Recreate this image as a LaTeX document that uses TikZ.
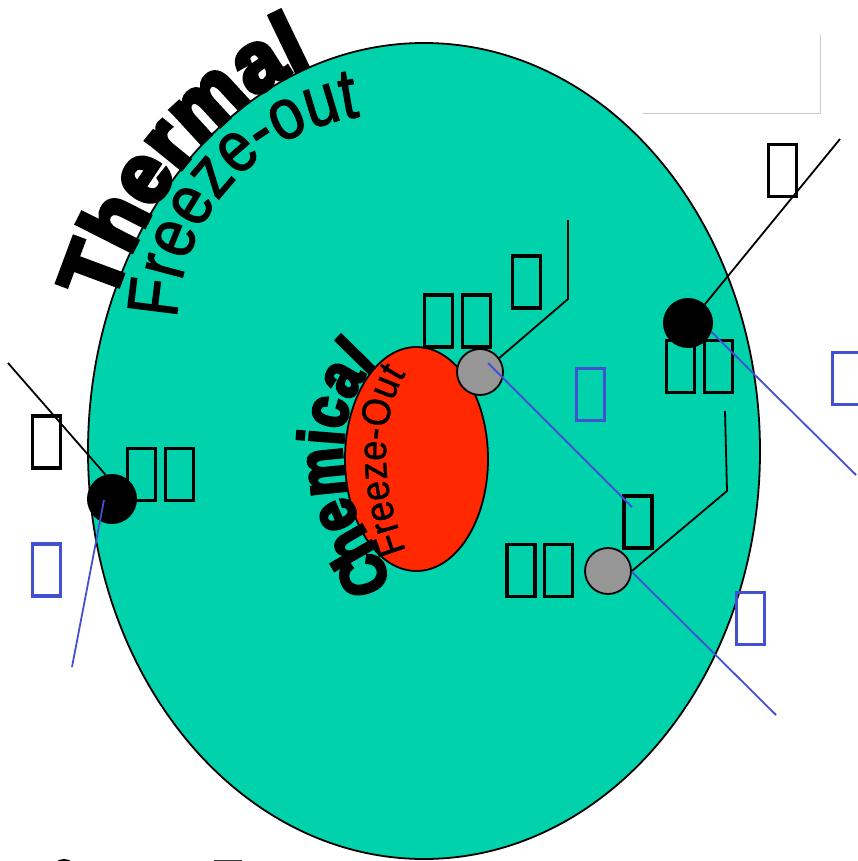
\documentclass[tikz,border=0pt]{standalone}
\usepackage{fontspec}
\usetikzlibrary{decorations.text}
% condensed, heavy faces for the arched captions
\newfontfamily\arcboldA[FakeStretch=0.97, FakeBold=6]{Liberation Sans Bold}
\newfontfamily\arcregA[FakeStretch=0.85, FakeBold=1.5]{Liberation Sans}
\newfontfamily\arcboldB[FakeStretch=0.85, FakeBold=4.5]{Liberation Sans Bold}
\newfontfamily\arcregB[FakeStretch=0.9, FakeBold=1]{Liberation Sans}
\definecolor{fireball}{RGB}{0,210,172}
\definecolor{core}{RGB}{255,40,0}
\definecolor{trackblue}{RGB}{68,80,210}
\definecolor{hadron}{RGB}{150,150,150}
\definecolor{frame}{RGB}{200,200,200}
\begin{document}
\begin{tikzpicture}[x=1pt,y=1pt,
  tofu/.style={draw, line width=3.2pt, minimum width=28pt, minimum height=52pt, inner sep=0pt},
  tofublue/.style={tofu, draw=trackblue},
  blackdot/.style={circle, fill=black, minimum size=50pt, inner sep=0pt},
  graydot/.style={circle, fill=hadron, draw=black, line width=1.8pt, minimum size=46pt, inner sep=0pt},
  blk/.style={draw=black, line width=1.8pt},
  blu/.style={draw=trackblue, line width=1.8pt}]
\useasboundingbox (0,0) rectangle (858,-861);
\clip (0,0) rectangle (858,-861);

% fireball and chemical core
\draw[fill=fireball, line width=1.8pt] (424,-451) ellipse[x radius=336, y radius=408];
\draw[fill=core, line width=1.8pt] (416.5,-459) ellipse[x radius=71.5, y radius=112];

% frame corner at the top right
\draw[frame, line width=1pt] (643,-114) -- (820,-114) -- (820,-35);

% arched captions
\path[decorate, decoration={text along path, text format delimiters={|}{|},
  text={|\arcboldA\fontsize{84}{100}\selectfont|Thermal}, text align={fit to path}}]
  (112.2,-303.7) arc[start angle=159, end angle=109.6, x radius=334, y radius=411];
\path[decorate, decoration={text along path, text format delimiters={|}{|},
  text={|\arcregA\fontsize{72}{86}\selectfont|Freeze-out}, text align={fit to path}}]
  (177.1,-318.6) arc[start angle=178, end angle=97.6, radius=211];
\path[decorate, decoration={text along path, text format delimiters={|}{|},
  text={|\arcboldB\fontsize{64}{76}\selectfont|Chemical}, text align={fit to path}}]
  (388,-588) .. controls (386,-545) and (344,-520) .. (343,-460)
             .. controls (342,-412) and (355,-385) .. (376,-366);
\path[decorate, decoration={text along path, text format delimiters={|}{|},
  text={|\arcregB\fontsize{40}{48}\selectfont|Freeze-Out}, text align={fit to path}}]
  (406,-551) .. controls (395,-520) and (386,-490) .. (386,-455)
             .. controls (386,-417) and (395,-390) .. (406,-374);

% labels
\node[tofu] (b1) at (782.5,-170.5) {};
\node[tofu] (b2) at (526.5,-282) {};
\node[tofu] (b3) at (438.5,-321) {};
\node[tofu] (b4) at (476.5,-321) {};
\node[tofu] (b5) at (46.5,-442) {};
\node[tofu] (b6) at (141.5,-474.5) {};
\node[tofu] (b7) at (179.5,-474.5) {};
\node[tofu] (b8) at (680.5,-366.5) {};
\node[tofu] (b9) at (718.5,-366.5) {};
\node[tofu] (b10) at (638,-522) {};
\node[tofu] (b11) at (521,-570.5) {};
\node[tofu] (b12) at (558.5,-570.5) {};
\node[tofublue] (u1) at (46.5,-570) {};
\node[tofublue] (u2) at (590.5,-394.5) {};
\node[tofublue] (u3) at (846.5,-378.5) {};
\node[tofublue] (u4) at (750.5,-618.5) {};

% particles
\node[blackdot] (lb) at (112,-499) {};
\node[blackdot] (rb) at (688,-323) {};
\node[graydot] (ug) at (480,-372) {};
\node[graydot] (lg) at (608,-571) {};

% free ends of the tracks
\coordinate (lbfar) at (8,-363);
\coordinate (lbout) at (72,-667);
\coordinate (rbfar) at (840,-139);
\coordinate (rbout) at (856,-475);
\coordinate (ugknee) at (568,-299);
\coordinate (ugtop) at (568,-220);
\coordinate (ugout) at (632,-507);
\coordinate (lgknee) at (727,-491);
\coordinate (lgtop) at (725,-411);
\coordinate (lgout) at (776,-715);

% tracks
\draw[blk] (lbfar) -- (lb.105);
\draw[blu] ([shift={(-8,-1)}]lb.center) -- (lbout);
\draw[blk] (rb.48) -- (rbfar);
\draw[blu] (rb.-21) -- (rbout);
\draw[blk] (ug.36) -- (ugknee) -- (ugtop);
\draw[blu] ([shift={(8,9)}]ug.center) -- (ugout);
\draw[blk] (lg.0) -- (lgknee) -- (lgtop);
\draw[blu] (lg.-2) -- (lgout);

% glyph tops cut by the lower edge
\draw[line width=2pt] (64,-872) circle[radius=12];
\fill[black!75] (214,-859.5) rectangle (242,-866);
\end{tikzpicture}
\end{document}
